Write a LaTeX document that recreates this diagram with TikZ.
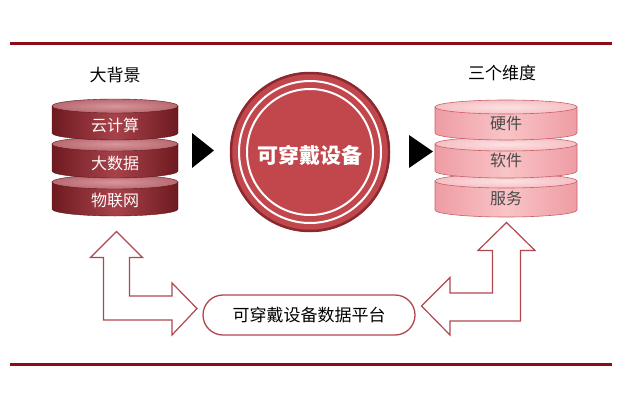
\documentclass[tikz,border=0pt]{standalone}
\usepackage{fontspec}
\setmainfont{Noto Sans CJK SC}
\newfontfamily\cjk{Noto Sans CJK SC}
\begin{document}
\begin{tikzpicture}[x=1pt,y=1pt,
  rule/.style={line width=3pt,color=ruleRed},
  darkbody/.style={left color=dkEdge,right color=dkEdge,middle color=dkMid,shading angle=90,draw=dkLine,line width=0.4pt},
  darktop/.style={inner color=dkTopIn,outer color=dkTopOut,draw=dkLine,line width=0.4pt},
  lightbody/.style={left color=ltEdge,right color=ltEdge,middle color=ltMid,shading angle=90,draw=ltLine,line width=0.6pt},
  lighttop/.style={inner color=ltTopIn,outer color=ltTopOut,draw=ltLine,line width=0.6pt},
  whitelbl/.style={text=white!92!pink,font=\cjk\fontsize{16}{16}\selectfont,inner sep=0pt},
  greylbl/.style={text=txtGrey,font=\cjk\fontsize{16}{16}\selectfont,inner sep=0pt},
  headlbl/.style={text=black,font=\cjk\fontsize{17}{17}\selectfont,inner sep=0pt},
  bentarrow/.style={draw=arrRed,line width=1.2pt,fill=white,line join=miter},
  tri/.style={fill=black},
]
\definecolor{ruleRed}{HTML}{8C0B16}
\definecolor{dkEdge}{HTML}{6E1A20}
\definecolor{dkMid}{HTML}{A8424A}
\definecolor{dkLine}{HTML}{5E161B}
\definecolor{dkTopIn}{HTML}{D8959A}
\definecolor{dkTopOut}{HTML}{B86A72}
\definecolor{ltEdge}{HTML}{EE9CA3}
\definecolor{ltMid}{HTML}{F9C4C7}
\definecolor{ltLine}{HTML}{C8606A}
\definecolor{ltTopIn}{HTML}{FCE2E3}
\definecolor{ltTopOut}{HTML}{F6C0C4}
\definecolor{txtGrey}{HTML}{4A4A4A}
\definecolor{arrRed}{HTML}{B0474E}
\definecolor{circFill}{HTML}{C1474D}
\definecolor{circLine}{HTML}{8A2A30}

\useasboundingbox (0,0) rectangle (628,400);

% rules
\draw[rule] (10,356.5) -- (612,356.5);
\draw[rule] (10,36) -- (612,36);

% left stack (disks from bottom to top)
\foreach \yt/\yb in {218/191, 256/229, 294/267}{
  \path[darkbody] (52,\yt) -- (52,\yb) arc[start angle=180,end angle=360,x radius=63,y radius=7] -- (178,\yt) -- cycle;
  \path[darktop] (115,\yt) ellipse[x radius=63,y radius=7];
}
% right stack
\foreach \yt/\yb in {219/190, 256/229, 293/267}{
  \path[lightbody] (435,\yt) -- (435,\yb) arc[start angle=180,end angle=360,x radius=71,y radius=7] -- (577,\yt) -- cycle;
  \path[lighttop] (506,\yt) ellipse[x radius=71,y radius=7];
}

\node[headlbl] (bg) at (115,325) {大背景};
\node[headlbl] (dim) at (502,327) {三个维度};

\node[whitelbl] (cloud) at (115,275) {云计算};
\node[whitelbl] (big) at (115,237) {大数据};
\node[whitelbl] (iot) at (115,200) {物联网};

\node[greylbl] (hw) at (506,277) {硬件};
\node[greylbl] (sw) at (506,240) {软件};
\node[greylbl] (svc) at (506,202) {服务};

% centre circle
\fill[circFill] (310,248) circle[radius=80];
\draw[circLine,line width=2.5pt] (310,248) circle[radius=79];
\draw[white,line width=2pt] (310,248) circle[radius=71];
\draw[white,line width=2pt] (310,248) circle[radius=63];
\node[text=white,font=\cjk\bfseries\fontsize{21}{21}\selectfont,inner sep=0pt] (wear) at (310,245) {可穿戴设备};

% triangles
\fill[tri] (192,267) -- (192,232) -- (214,249.5) -- cycle;
\fill[tri] (409,265) -- (409,232) -- (433,248.5) -- cycle;

% platform
\node[draw=arrRed,line width=1.3pt,rounded corners=20pt,minimum width=212pt,minimum height=40pt,inner sep=0pt,
  font=\cjk\fontsize{17}{17}\selectfont,text=black] (plat) at (309,85) {可穿戴设备数据平台};

% bent arrows
\path[bentarrow] (116.5,168.5) -- (142.5,142.5) -- (129.5,142.5) -- (129.5,104) -- (172,104) -- (172,117)
  -- (197,91.5) -- (172,65) -- (172,80) -- (103.5,80) -- (103.5,142.5) -- (90.5,142.5) -- cycle;
\path[bentarrow] (506.5,177.5) -- (535,149.5) -- (520.5,149.5) -- (520.5,79) -- (450,79) -- (450,65)
  -- (421.5,94) -- (450,122.5) -- (450,107) -- (492.5,107) -- (492.5,149.5) -- (478,149.5) -- cycle;
\end{tikzpicture}
\end{document}
